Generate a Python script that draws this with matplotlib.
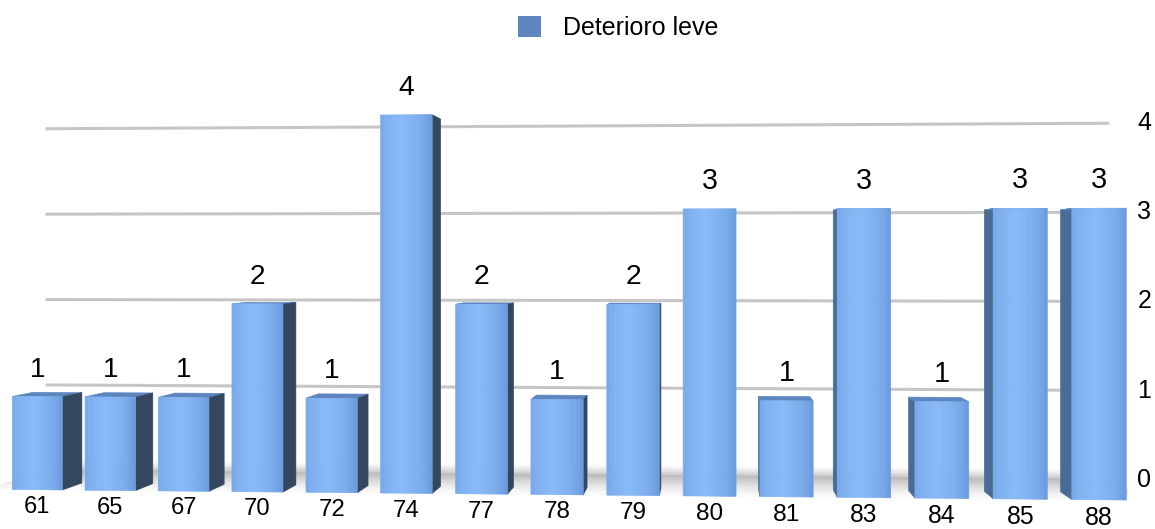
import numpy as np
import matplotlib
matplotlib.use("Agg")
import matplotlib.pyplot as plt
from matplotlib.patches import Patch
from matplotlib.colors import to_rgb
from matplotlib.transforms import IdentityTransform
from mpl_toolkits.mplot3d import proj3d
from mpl_toolkits.mplot3d.art3d import Poly3DCollection

# ---- data -------------------------------------------------------------
categories = ["61", "65", "67", "70", "72", "74", "77", "78",
              "79", "80", "81", "83", "84", "85", "88"]
values = [1, 1, 1, 2, 1, 4, 2, 1, 2, 3, 1, 3, 1, 3, 3]
series_name = "Deterioro leve"
y_ticks = [0, 1, 2, 3, 4]

# ---- scene geometry (world units: one category step) -------------------
BAR_W = 0.69
BAR_D = 0.80
WALL_Y = 2.3
Z_UNIT = 1.251
Z_MAX = 5.0
WALL_X0, WALL_X1 = -0.7, 14.6

FRONT_EDGE = "#5a8bd0"
FRONT_MID = "#88baf7"
TOP_COL = "#5d86c0"
RIGHT_SIDE = "#34475e"
LEFT_SIDE = "#4a6b96"
GRID_COL = "#c6c6c6"
LEGEND_COL = "#5f87bf"

plt.rcParams["font.family"] = ["Liberation Sans", "DejaVu Sans"]

W_PX, H_PX = 1155, 529
fig = plt.figure(figsize=(W_PX / 100, H_PX / 100), dpi=100)
S = 1159
cx, cy = 548, 256.5
ax = fig.add_axes([(cx - S / 2) / W_PX, (cy - S / 2) / H_PX, S / W_PX, S / H_PX],
                  projection="3d")
ax.set_xlim(-0.5, len(values) - 0.5)
ax.set_ylim(0, WALL_Y)
ax.set_zlim(0, Z_MAX)
ax.set_box_aspect((len(values), WALL_Y, Z_MAX * Z_UNIT))
ax.view_init(elev=0, azim=-85.65)
ax.set_proj_type("persp", focal_length=0.306)
ax.set_axis_off()
ax.computed_zorder = False

M = ax.get_proj()


def proj_x(x, y, z):
    px, py, _ = proj3d.proj_transform(np.array([x]), np.array([y]), np.array([z]), M)
    return px[0]


def mix(c1, c2, t):
    a, b = np.array(to_rgb(c1)), np.array(to_rgb(c2))
    return tuple(a + (b - a) * t)


# floor band in front of the wall, darkening towards the wall
floor_polys, floor_cols = [], []
n_floor = 12
for k in range(n_floor):
    ya, yb = WALL_Y * k / n_floor, WALL_Y * (k + 1) / n_floor
    floor_polys.append([(WALL_X0, ya, 0), (WALL_X1, ya, 0),
                        (WALL_X1, yb, 0), (WALL_X0, yb, 0)])
    floor_cols.append(mix("#fbfbfb", "#b8b8b8", ((k + 0.5) / n_floor) ** 1.3))
# soft shadow rising up the wall from the floor
n_glow = 8
glow_h = 0.12
for k in range(n_glow):
    za, zb = glow_h * k / n_glow, glow_h * (k + 1) / n_glow
    floor_polys.append([(WALL_X0, WALL_Y, za), (WALL_X1, WALL_Y, za),
                        (WALL_X1, WALL_Y, zb), (WALL_X0, WALL_Y, zb)])
    floor_cols.append(mix("#bdbdbd", "#ffffff", ((k + 0.5) / n_glow) ** 0.8))
floor = Poly3DCollection(floor_polys, facecolors=floor_cols, edgecolors=floor_cols,
                         linewidths=0.5, zorder=1)
ax.add_collection3d(floor)

# horizontal gridlines on the back wall
for v in y_ticks[1:]:
    ax.plot([WALL_X0, WALL_X1], [WALL_Y, WALL_Y], [v, v], color=GRID_COL, lw=2.2,
            solid_capstyle="butt", zorder=2)

# bars: visible side, top and a shaded front face
polys, cols = [], []
n_strip = 14
for i, v in enumerate(values):
    x0, x1 = i - BAR_W / 2, i + BAR_W / 2
    if proj_x(x1, BAR_D, 0) > proj_x(x1, 0, 0):
        polys.append([(x1, 0, 0), (x1, BAR_D, 0), (x1, BAR_D, v), (x1, 0, v)])
        cols.append(to_rgb(RIGHT_SIDE))
    if proj_x(x0, BAR_D, 0) < proj_x(x0, 0, 0):
        polys.append([(x0, 0, 0), (x0, BAR_D, 0), (x0, BAR_D, v), (x0, 0, v)])
        cols.append(to_rgb(LEFT_SIDE))
    polys.append([(x0, 0, v), (x1, 0, v), (x1, BAR_D, v), (x0, BAR_D, v)])
    cols.append(to_rgb(TOP_COL))
    for k in range(n_strip):
        t0, t1 = k / n_strip, (k + 1) / n_strip
        tm = (t0 + t1) / 2
        s = 1 - abs(tm - 0.42) / 0.58
        s = max(s, 0) ** 0.35
        xa, xb = x0 + (x1 - x0) * t0, x0 + (x1 - x0) * t1
        polys.append([(xa, 0, 0), (xb, 0, 0), (xb, 0, v), (xa, 0, v)])
        cols.append(mix(FRONT_EDGE, FRONT_MID, s))
bars = Poly3DCollection(polys, facecolors=cols, edgecolors=cols, linewidths=0.4,
                        zorder=3)
ax.add_collection3d(bars)

# labels are placed in screen space at the projected scene points
fig.canvas.draw()
M = ax.get_proj()


def to_screen(x, y, z):
    px, py, _ = proj3d.proj_transform(np.array([x]), np.array([y]), np.array([z]), M)
    return ax.transData.transform((px[0], py[0]))


def persp_scale(i):
    a = to_screen(i - BAR_W / 2, 0, 0)[0]
    b = to_screen(i + BAR_W / 2, 0, 0)[0]
    a0 = to_screen(-BAR_W / 2, 0, 0)[0]
    b0 = to_screen(BAR_W / 2, 0, 0)[0]
    return (b - a) / (b0 - a0)


screen = IdentityTransform()

# value labels above bars
for i, v in enumerate(values):
    sx, sy = to_screen(i, 0, v + 0.29)
    fig.text(sx, sy, str(v), ha="center", va="center",
             fontsize=20 * persp_scale(i) ** 0.5, transform=screen)

# category labels below bars
for i, c in enumerate(categories):
    sx, sy = to_screen(i, 0, -0.185)
    fig.text(sx, sy, c, ha="center", va="center",
             fontsize=17 * persp_scale(i) ** 0.6, transform=screen)

# value axis labels at the right end of the wall
for v in y_ticks:
    sx, sy = to_screen(WALL_X1 + 0.48, WALL_Y, v)
    fig.text(sx, sy, str(v), ha="center", va="center", fontsize=18,
             transform=screen)

fig.legend(handles=[Patch(facecolor=LEGEND_COL)], labels=[series_name],
           loc="center", bbox_to_anchor=(0.535, 0.947), frameon=False,
           fontsize=18, handlelength=0.95, handleheight=0.95,
           handletextpad=0.85)

fig.savefig("out.png", dpi=100)
